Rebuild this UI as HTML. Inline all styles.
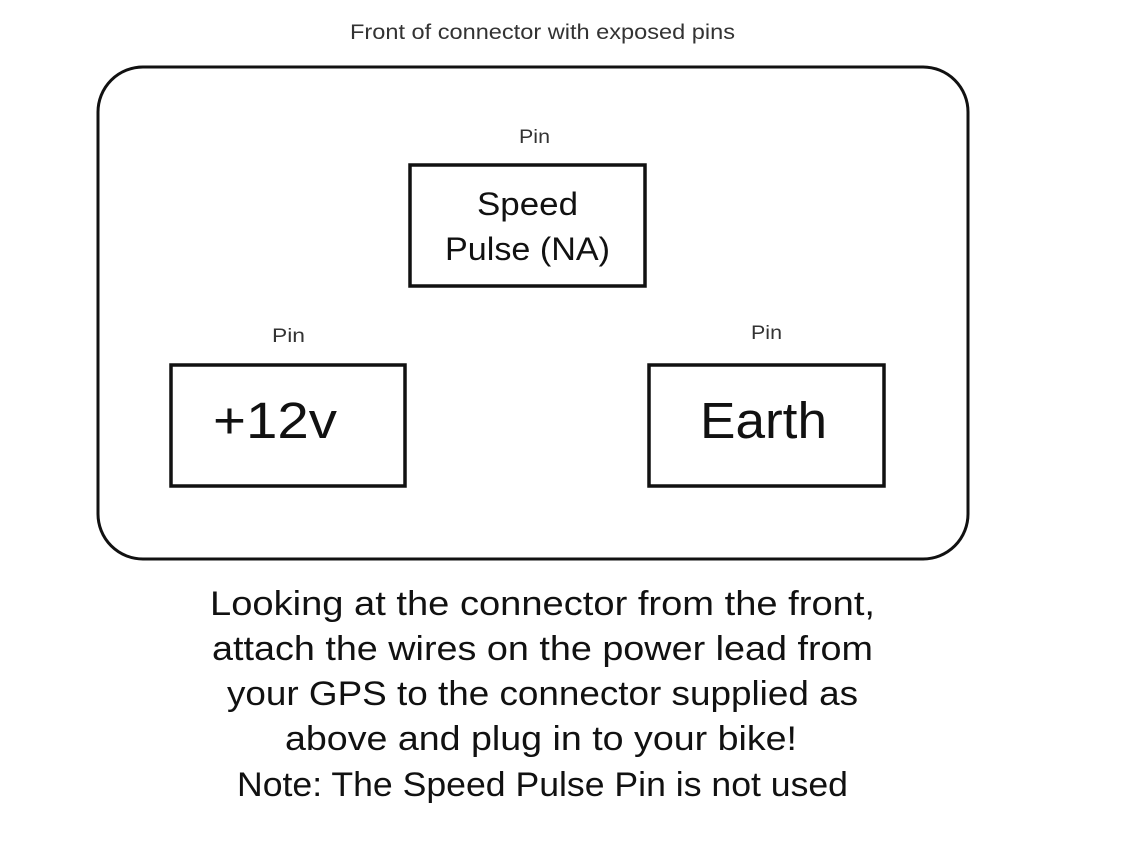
<!DOCTYPE html>
<html>
<head>
<meta charset="utf-8">
<style>
  html, body { margin: 0; padding: 0; background: #ffffff; }
  body { width: 1140px; height: 854px; overflow: hidden; }
  svg { display: block; }
  text { font-family: "Liberation Sans", "DejaVu Sans", sans-serif; }
</style>
</head>
<body>
<svg width="1140" height="854" viewBox="0 0 1140 854" xmlns="http://www.w3.org/2000/svg">
  <rect x="0" y="0" width="1140" height="854" fill="#ffffff"/>

  <!-- Title -->
  <text x="350" y="39" font-size="21" fill="#333" textLength="385" lengthAdjust="spacingAndGlyphs">Front of connector with exposed pins</text>

  <!-- Outer connector outline -->
  <rect x="98" y="67" width="870" height="492" rx="45" ry="45" fill="none" stroke="#111" stroke-width="3"/>

  <!-- Speed Pulse pin -->
  <text x="519" y="143" font-size="19" fill="#333" textLength="31" lengthAdjust="spacingAndGlyphs">Pin</text>
  <rect x="410" y="165" width="235" height="121" fill="none" stroke="#111" stroke-width="3.5"/>
  <text x="477" y="215" font-size="32" fill="#111" textLength="101" lengthAdjust="spacingAndGlyphs">Speed</text>
  <text x="445" y="260" font-size="32" fill="#111" textLength="165" lengthAdjust="spacingAndGlyphs">Pulse (NA)</text>

  <!-- +12v pin -->
  <text x="272" y="342" font-size="19" fill="#333" textLength="33" lengthAdjust="spacingAndGlyphs">Pin</text>
  <rect x="171" y="365" width="234" height="121" fill="none" stroke="#111" stroke-width="3.5"/>
  <text x="213" y="438" font-size="51" fill="#111" textLength="124" lengthAdjust="spacingAndGlyphs">+12v</text>

  <!-- Earth pin -->
  <text x="751" y="339" font-size="19" fill="#333" textLength="31" lengthAdjust="spacingAndGlyphs">Pin</text>
  <rect x="649" y="365" width="235" height="121" fill="none" stroke="#111" stroke-width="3.5"/>
  <text x="700" y="438" font-size="51" fill="#111" textLength="127" lengthAdjust="spacingAndGlyphs">Earth</text>

  <!-- Instructions -->
  <text x="210" y="615" font-size="34" fill="#111" textLength="665" lengthAdjust="spacingAndGlyphs">Looking at the connector from the front,</text>
  <text x="212" y="660" font-size="34" fill="#111" textLength="661" lengthAdjust="spacingAndGlyphs">attach the wires on the power lead from</text>
  <text x="227" y="705" font-size="34" fill="#111" textLength="631" lengthAdjust="spacingAndGlyphs">your GPS to the connector supplied as</text>
  <text x="285" y="750" font-size="34" fill="#111" textLength="512" lengthAdjust="spacingAndGlyphs">above and plug in to your bike!</text>
  <text x="237" y="796" font-size="34" fill="#111" textLength="611" lengthAdjust="spacingAndGlyphs">Note: The Speed Pulse Pin is not used</text>
</svg>
</body>
</html>
